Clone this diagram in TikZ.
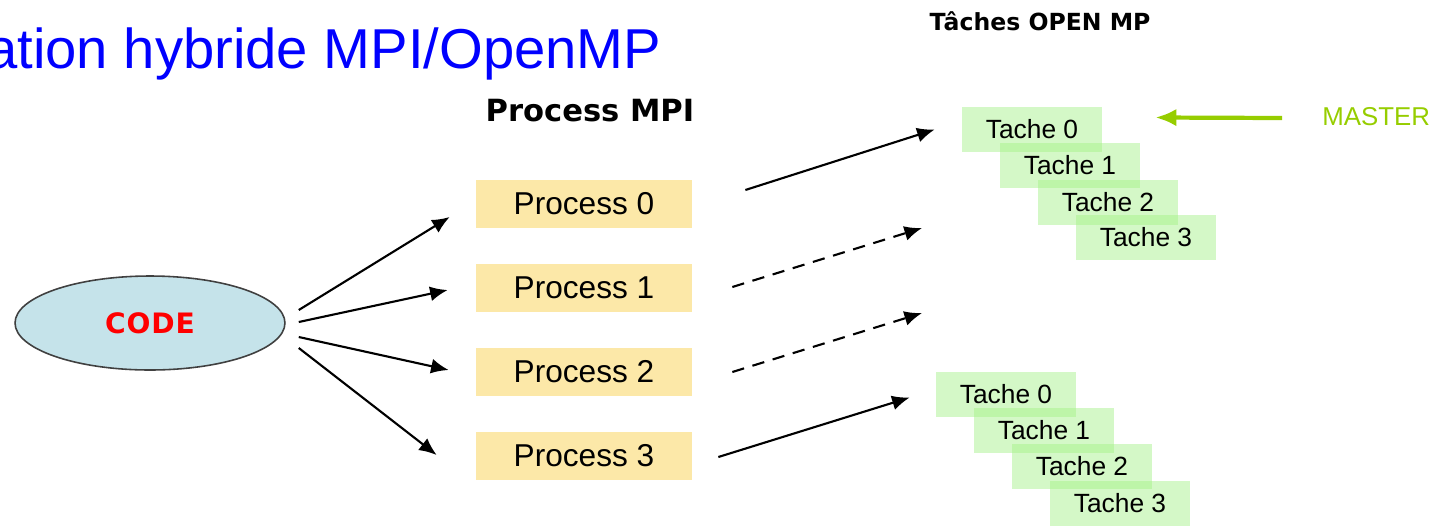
\documentclass[tikz,border=0pt]{standalone}
\usepackage{fontspec}
\setmainfont{Liberation Sans}
\newfontfamily\headfont{DejaVu Sans}
\usepackage{tikz}
\usetikzlibrary{shapes.geometric, arrows.meta}
\definecolor{procfill}{RGB}{252,232,168}
\definecolor{codefill}{RGB}{197,227,234}
\definecolor{tachefill}{RGB}{160,240,130}
\definecolor{mastergreen}{RGB}{150,205,0}
\tikzstyle{codeblob} = [ellipse, 
minimum width=5.4cm, 
minimum height=1.88cm, 
inner sep=0pt,
line width=0.9pt,
draw=black!75, 
fill=codefill]
\tikzstyle{proc} = [rectangle, 
minimum width=4.32cm, 
minimum height=0.96cm, 
text centered, 
fill=procfill, 
font=\fontsize{18}{20}\selectfont]
\tikzstyle{tache} = [rectangle, 
minimum width=2.8cm, 
minimum height=0.9cm, 
text centered, 
fill=tachefill, 
fill opacity=0.45, 
text opacity=1,
font=\fontsize{15}{17}\selectfont]
\tikzstyle{header} = [font=\headfont\bfseries]
\tikzstyle{arrow} = [line width=1.2pt,-{Latex[length=10pt,width=8.5pt]}]

\begin{document}
\begin{tikzpicture}[x=0.02cm, y=-0.02cm]
\useasboundingbox (0,0) rectangle (1435,525);

\node (titre) [anchor=base west, inner sep=0pt, text=blue, font=\fontsize{32}{36}\selectfont] at (-14,68) {ation hybride MPI/OpenMP};
\node (hmpi) [header, font=\headfont\bfseries\fontsize{17.4}{20}\selectfont] at (590,111) {Process MPI};
\node (hmp) [header, font=\headfont\bfseries\fontsize{13.4}{16}\selectfont] at (1040,21) {Tâches OPEN MP};

\node (code) [codeblob] at (150,323) {\headfont\bfseries\fontsize{16}{18}\selectfont\color{red}C\kern0.5pt O\kern0.5pt D\kern0.5pt E};

\node (p0) [proc] at (584,204) {Process 0};
\node (p1) [proc] at (584,288) {Process 1};
\node (p2) [proc] at (584,372) {Process 2};
\node (p3) [proc] at (584,456) {Process 3};

% taches du process 0
\node (ta0) [tache] at (1032,129.5) {Tache 0};
\node (ta1) [tache] at (1070,165.5) {Tache 1};
\node (ta2) [tache] at (1108,202) {Tache 2};
\node (ta3) [tache] at (1146,237.5) {Tache 3};

% taches du process 3
\node (tb0) [tache] at (1006,394.5) {Tache 0};
\node (tb1) [tache] at (1044,430.5) {Tache 1};
\node (tb2) [tache] at (1082,466.5) {Tache 2};
\node (tb3) [tache] at (1120,503) {Tache 3};

\node (master) [anchor=west, inner sep=0pt, text=mastergreen, font=\fontsize{14.7}{17}\selectfont] at (1322,117) {MASTER};

\coordinate (e1) at (922,228);
\coordinate (e2) at (922,313);

\draw [arrow] ([shift={(13,-13)}]code.east) -- ([shift={(-26,13)}]p0.west);
\draw [arrow] ([shift={(13,-1)}]code.east) -- ([shift={(-28,2)}]p1.west);
\draw [arrow] ([shift={(13,14)}]code.east) -- ([shift={(-27,-2)}]p2.west);
\draw [arrow] ([shift={(13,25)}]code.east) -- ([shift={(-39,-1)}]p3.west);

\draw [arrow] ([shift={(53,-14)}]p0.east) -- ([shift={(-27,0)}]ta0.west);
\draw [arrow, dashed, dash pattern=on 7pt off 5pt] ([shift={(40,-1)}]p1.east) -- (e1);
\draw [arrow, dashed, dash pattern=on 7pt off 5pt] ([shift={(40,0)}]p2.east) -- (e2);
\draw [arrow] ([shift={(26,1)}]p3.east) -- ([shift={(-26,3)}]tb0.west);

\draw [line width=2.4pt, draw=mastergreen, -{Latex[length=12pt,width=10pt]}] ([shift={(-40,1)}]master.west) -- ([shift={(53,-12)}]ta0.east);

\end{tikzpicture}
\end{document}
